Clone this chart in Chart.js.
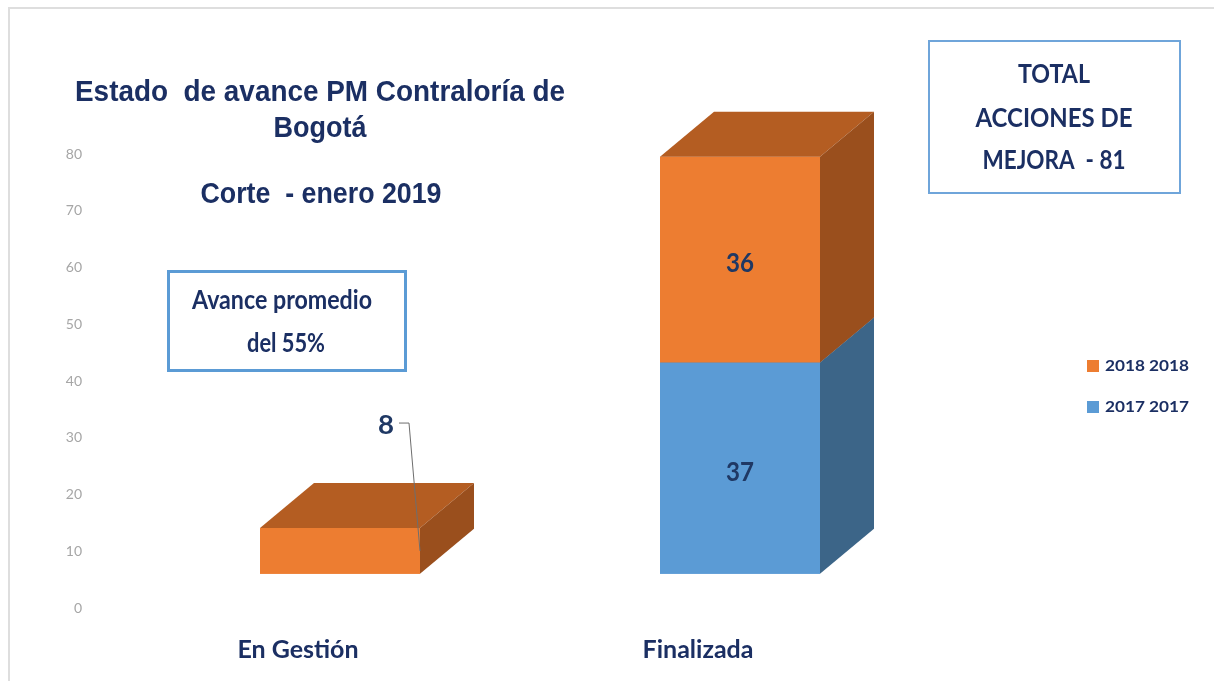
<!DOCTYPE html>
<html lang="es">
<head>
<meta charset="UTF-8">
<title>Estado de avance PM Contraloría de Bogotá</title>
<script src="https://cdn.jsdelivr.net/npm/chart.js"></script>
<style>
    html, body {
        margin: 0;
        padding: 0;
        background: #ffffff;
    }
    canvas {
        display: block;
    }
</style>
</head>
<body>

<canvas id="avanceChart" width="1214" height="681"></canvas>

<script>
// data
var categories = ['En Gestión', 'Finalizada'];
var series2017 = [null, 37];
var series2018 = [8, 36];
var seriesNames = ['2017 2017', '2018 2018'];

// axis ticks 0..80 every 10
var tickMin = 0;
var tickMax = 80;
var tickStep = 10;

var navy = '#1B2F63';
var depthX = 54;
var depthY = 45;

// draw text squeezed/stretched to a given width
function fitText(ctx, text, cx, cy, width, font, color) {
    ctx.save();
    ctx.font = font;
    var w = ctx.measureText(text).width;
    ctx.translate(cx, cy);
    ctx.scale(width / w, 1);
    ctx.textAlign = 'center';
    ctx.textBaseline = 'middle';
    ctx.fillStyle = color;
    ctx.fillText(text, 0, 0);
    ctx.restore();
}

function poly(ctx, pts, color) {
    ctx.beginPath();
    ctx.moveTo(pts[0][0], pts[0][1]);
    for (var i = 1; i < pts.length; i++) ctx.lineTo(pts[i][0], pts[i][1]);
    ctx.closePath();
    ctx.fillStyle = color;
    ctx.fill();
}

// page frame, boxes and titles
var decorPlugin = {
    id: 'decor',
    beforeDraw: function (chart) {
        var ctx = chart.ctx;
        ctx.save();
        ctx.fillStyle = '#ffffff';
        ctx.fillRect(0, 0, chart.width, chart.height);
        ctx.strokeStyle = '#DEDEDE';
        ctx.lineWidth = 2;
        ctx.beginPath();
        ctx.moveTo(9, chart.height);
        ctx.lineTo(9, 8);
        ctx.lineTo(chart.width, 8);
        ctx.stroke();
        ctx.restore();
    },
    afterDraw: function (chart) {
        var ctx = chart.ctx;
        var titleFont = 'bold 29px "Liberation Sans Narrow", "Liberation Sans", sans-serif';
        fitText(ctx, 'Estado  de avance PM Contraloría de', 320, 93, 490, titleFont, navy);
        fitText(ctx, 'Bogotá', 320, 129, 93, titleFont, navy);
        fitText(ctx, 'Corte  - enero 2019', 321, 195, 241, titleFont, navy);

        // "Avance promedio" box
        ctx.save();
        ctx.strokeStyle = '#5B9BD5';
        ctx.lineWidth = 3;
        ctx.strokeRect(168.5, 271.5, 237, 99);
        ctx.restore();
        var boxFont = 'bold 26px Lato, "Open Sans", sans-serif';
        fitText(ctx, 'Avance promedio', 282, 301, 180, boxFont, navy);
        fitText(ctx, 'del 55%', 286, 344, 78, boxFont, navy);

        // total box
        ctx.save();
        ctx.strokeStyle = '#6FA5DA';
        ctx.lineWidth = 2;
        ctx.strokeRect(929, 41, 251, 152);
        ctx.restore();
        fitText(ctx, 'TOTAL', 1054, 75, 72, boxFont, navy);
        fitText(ctx, 'ACCIONES DE', 1054, 119, 157, boxFont, navy);
        fitText(ctx, 'MEJORA  - 81', 1054, 161, 143, boxFont, navy);

        // legend, reversed like the stack
        var legendFont = 'bold 16px Lato, "Open Sans", sans-serif';
        var rows = [1, 0];
        rows.forEach(function (di, k) {
            var ds = chart.data.datasets[di];
            var cy = 366 + k * 41;
            ctx.fillStyle = ds.backgroundColor;
            ctx.fillRect(1087, cy - 6, 12, 12);
            ctx.save();
            ctx.font = legendFont;
            var w = ctx.measureText(ds.label).width;
            ctx.translate(1105, cy);
            ctx.scale(84 / w, 1);
            ctx.textAlign = 'left';
            ctx.textBaseline = 'middle';
            ctx.fillStyle = navy;
            ctx.fillText(ds.label, 0, 0);
            ctx.restore();
        });
    }
};

// 3D boxes on top of the bars, bottom of the stack first
var boxPlugin = {
    id: 'box3d',
    afterDatasetsDraw: function (chart) {
        var ctx = chart.ctx;
        ctx.save();
        chart.data.datasets.forEach(function (ds, di) {
            var meta = chart.getDatasetMeta(di);
            meta.data.forEach(function (bar, i) {
                if (ds.data[i] == null) return;
                var p = bar.getProps(['x', 'y', 'base', 'width'], true);
                var l = p.x - p.width / 2;
                var r = p.x + p.width / 2;
                ctx.fillStyle = ds.backgroundColor;
                ctx.fillRect(l, p.y, p.width, p.base - p.y);
                poly(ctx, [[l, p.y], [l + depthX, p.y - depthY], [r + depthX, p.y - depthY], [r, p.y]], ds.topColor);
                poly(ctx, [[r, p.y], [r + depthX, p.y - depthY], [r + depthX, p.base - depthY], [r, p.base]], ds.sideColor);
            });
        });

        // value labels
        var labelFont = 'bold 27px Lato, "Open Sans", sans-serif';
        chart.data.datasets.forEach(function (ds, di) {
            var meta = chart.getDatasetMeta(di);
            meta.data.forEach(function (bar, i) {
                var v = ds.data[i];
                if (v == null) return;
                var p = bar.getProps(['x', 'y', 'base', 'width'], true);
                var r = p.x + p.width / 2;
                var h = p.base - p.y;
                if (h > 80) {
                    fitText(ctx, String(v), p.x, (p.y + p.base) / 2 + 4, 28, labelFont, '#1F3864');
                } else {
                    // callout above the flat box
                    ctx.strokeStyle = '#6E6E6E';
                    ctx.lineWidth = 1;
                    ctx.beginPath();
                    ctx.moveTo(r - 21, p.y - 105);
                    ctx.lineTo(r - 11, p.y - 105);
                    ctx.lineTo(r, (p.y + p.base) / 2);
                    ctx.stroke();
                    fitText(ctx, String(v), r - 34, p.y - 103, 16, labelFont, '#1F3864');
                }
            });
        });
        ctx.restore();
    }
};

var chartData = {
    labels: categories,
    datasets: [{
        label: seriesNames[0],
        data: series2017,
        backgroundColor: '#5B9BD5',
        topColor: '#4A80B0',
        sideColor: '#3C6588',
        yAxisID: 'y2'
    }, {
        label: seriesNames[1],
        data: series2018,
        backgroundColor: '#ED7D31',
        topColor: '#B45D22',
        sideColor: '#9A4F1D',
        yAxisID: 'y2'
    }]
};

var chartOptions = {
    responsive: false,
    animation: false,
    devicePixelRatio: 1,
    categoryPercentage: 1,
    barPercentage: 0.4,
    layout: {
        padding: { left: 0, right: 274, top: 154, bottom: 20 }
    },
    plugins: {
        legend: { display: false },
        tooltip: { enabled: false },
        title: { display: false }
    },
    scales: {
        x: {
            stacked: true,
            grid: { display: false, drawTicks: false },
            border: { display: false },
            ticks: {
                color: navy,
                padding: 27,
                labelOffset: -42,
                font: { family: 'Lato, "Open Sans", sans-serif', size: 25, weight: 'bold' }
            },
            afterFit: function (scale) { scale.height = 53; }
        },
        y: {
            position: 'left',
            min: tickMin,
            max: tickMax,
            grid: { display: false, drawTicks: false },
            border: { display: false },
            ticks: {
                stepSize: tickStep,
                color: '#A6A6A6',
                padding: 58,
                font: { family: 'Lato, "Open Sans", sans-serif', size: 14 }
            },
            afterFit: function (scale) { scale.width = 140; }
        },
        // the bars stand on the front floor of the 3D box, lower than the axis zero
        y2: {
            display: false,
            stacked: true,
            min: -6,
            max: 73.5
        }
    }
};

var ctx = document.getElementById('avanceChart').getContext('2d');
var avanceChart = new Chart(ctx, {
    type: 'bar',
    data: chartData,
    options: chartOptions,
    plugins: [decorPlugin, boxPlugin]
});
</script>

</body>
</html>
